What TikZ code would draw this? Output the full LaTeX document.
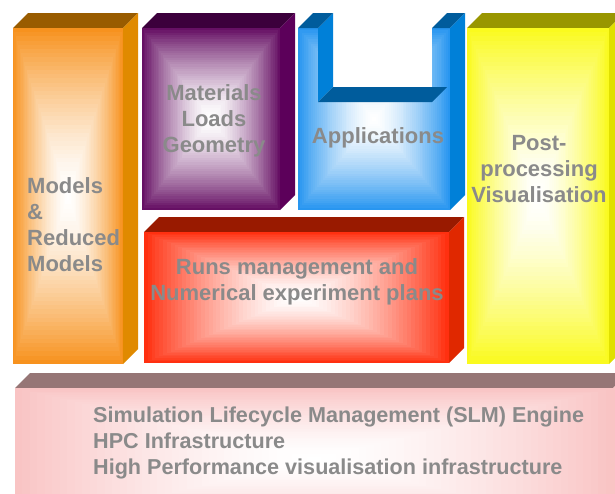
\documentclass[tikz,border=0pt]{standalone}
\usepackage{fontspec}
\setmainfont{Liberation Sans}
\usetikzlibrary{calc}
\definecolor{orangeF}{RGB}{247,146,30}
\definecolor{orangeS}{RGB}{224,138,0}
\definecolor{orangeT}{RGB}{153,92,0}
\definecolor{purpleF}{RGB}{102,16,100}
\definecolor{purpleS}{RGB}{92,0,90}
\definecolor{purpleT}{RGB}{60,0,60}
\definecolor{blueF}{RGB}{40,150,240}
\definecolor{blueS}{RGB}{0,128,216}
\definecolor{blueT}{RGB}{0,92,156}
\definecolor{yellowF}{RGB}{250,250,30}
\definecolor{yellowS}{RGB}{224,224,0}
\definecolor{yellowT}{RGB}{153,150,0}
\definecolor{redF}{RGB}{255,48,16}
\definecolor{redS}{RGB}{224,40,0}
\definecolor{redT}{RGB}{153,26,0}
\definecolor{pinkF}{RGB}{249,196,196}
\definecolor{pinkT}{RGB}{150,118,118}
\definecolor{labelgray}{RGB}{138,138,138}
\tikzset{label text/.style={text=labelgray, font=\bfseries\fontsize{22}{26}\selectfont, inner sep=0pt}}
\begin{document}
\begin{tikzpicture}[x=1pt,y=-1pt]
\clip (0,0) rectangle (615,493);
% slabs: front corners, then face colours
\foreach \xa/\ya/\xb/\yb/\base/\side/\roof in {13/28/123/364/orangeF/orangeS/orangeT, 142/28/280/210/purpleF/purpleS/purpleT, 467/28/609/364/yellowF/yellowS/yellowT, 144/232/449/363/redF/redS/redT, 15/388/613/530/pinkF/pinkF/pinkT}
{
	\fill[\roof] (\xa,\ya) -- ++(15,-15) -- (\xb+15,\ya-15) -- (\xb,\ya) -- cycle;
	\fill[\side] (\xb,\ya) -- (\xb+15,\ya-15) -- (\xb+15,\yb-15) -- (\xb,\yb) -- cycle;
	\foreach \k [evaluate=\k as \p using int(100*(1-\k/40)^1.5), evaluate=\k as \t using \k/80] in {0,...,39}
		\fill[\base!\p!white] ($(\xa,\ya)!\t!(\xb,\yb)$) rectangle ($(\xb,\yb)!\t!(\xa,\ya)$);
}
% the U of the applications
\begin{scope}
\clip (298,28) -- (318,28) -- (318,102) -- (432,102) -- (432,28) -- (450,28) -- (450,210) -- (298,210) -- cycle;
\foreach \k [evaluate=\k as \p using int(100*(1-\k/40)^1.5), evaluate=\k as \t using \k/80] in {0,...,39}
	\fill[blueF!\p!white] ($(298,28)!\t!(450,210)$) rectangle ($(450,210)!\t!(298,28)$);
\end{scope}
\fill[blueS] (318,28) -- (333,13) -- (333,87) -- (318,102) -- cycle;
\fill[blueT] (318,102) -- (333,87) -- (447,87) -- (432,102) -- cycle;
\fill[blueT] (298,28) -- (313,13) -- (333,13) -- (318,28) -- cycle;
\fill[blueT] (432,28) -- (447,13) -- (465,13) -- (450,28) -- cycle;
\fill[blueS] (450,28) -- (465,13) -- (465,195) -- (450,210) -- cycle;
% labels (anchored on their last line)
\node[label text, anchor=base west, align=left] (models) at (27,271) {Models\\\&\\Reduced\\Models};
\node[label text, anchor=base, align=center] (inputs) at (214,152) {Materials\\Loads\\Geometry};
\node[label text, anchor=base] (apps) at (378,143) {Applications};
\node[label text, anchor=base, align=center] (post) at (539,202) {Post-\\processing\\Visualisation};
\node[label text, anchor=base, align=center] (runs) at (297,300) {Runs management and\\Numerical experiment plans};
\node[label text, font=\bfseries\fontsize{21.6}{26}\selectfont, anchor=base west, align=left] (slm) at (93,474) {Simulation Lifecycle Management (SLM) Engine\\HPC Infrastructure\\High Performance visualisation infrastructure};
\end{tikzpicture}
\end{document}
